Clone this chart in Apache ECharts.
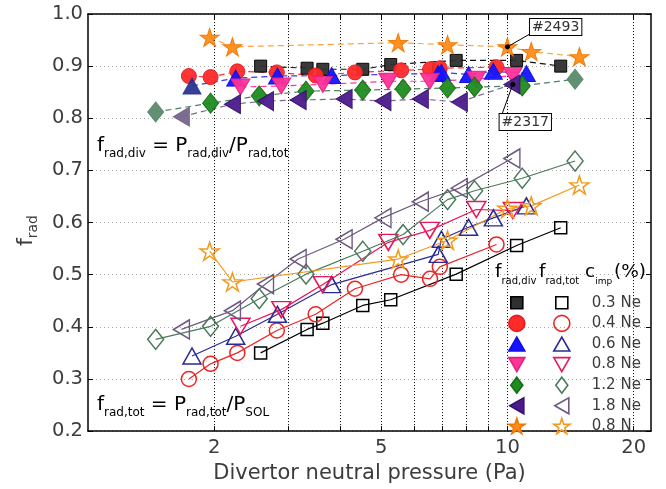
<!DOCTYPE html>
<html><head><meta charset="utf-8">
<script src="https://cdn.jsdelivr.net/npm/echarts@6/dist/echarts.min.js"></script>
<style>html,body{margin:0;padding:0;background:#fff}#c{width:666px;height:489px}</style>
</head><body><div id="c"></div>
<script>
// ---------- data ----------
const xTickLabels = [2, 5, 10, 20];
const xGridValues = [2, 3, 4, 5, 6, 7, 8, 9, 10, 20];
const yMin = 0.2, yMax = 1.0, yStep = 0.1;
const xMin = 1, xMax = 22;

const p03Ne = [2.58, 3.33, 3.63, 4.52, 5.27, 7.55, 10.52, 13.4];
const div03Ne = [0.900, 0.896, 0.894, 0.894, 0.903, 0.911, 0.911, 0.900];
const tot03Ne = [0.350, 0.395, 0.407, 0.441, 0.452, 0.501, 0.556, 0.590];

const p04Ne = [1.74, 1.96, 2.27, 2.82, 3.49, 4.33, 5.58, 6.54, 6.9, 9.42];
const div04Ne = [0.881, 0.879, 0.890, 0.888, 0.882, 0.888, 0.892, 0.894, 0.896, 0.898];
const tot04Ne = [0.300, 0.329, 0.350, 0.393, 0.424, 0.473, 0.500, 0.492, 0.515, 0.558];

const p06Ne = [1.77, 2.25, 2.83, 3.81, 6.84, 6.96, 8.08, 9.26, 11.1];
const div06Ne = [0.862, 0.877, 0.881, 0.882, 0.886, 0.888, 0.884, 0.890, 0.886];
const tot06Ne = [0.344, 0.382, 0.424, 0.481, 0.539, 0.568, 0.591, 0.609, 0.632];

const p08Ne = [2.31, 2.89, 3.63, 5.2, 6.53, 8.43, 10.3];
const div08Ne = [0.860, 0.862, 0.865, 0.871, 0.871, 0.875, 0.882];
const tot08Ne = [0.401, 0.433, 0.481, 0.562, 0.585, 0.625, 0.623];

const p12Ne = [1.45, 1.96, 2.56, 3.31, 4.52, 5.64, 7.2, 8.35, 10.85, 14.5];
const div12Ne = [0.812, 0.829, 0.843, 0.852, 0.854, 0.856, 0.858, 0.860, 0.862, 0.875];
const tot12Ne = [0.376, 0.401, 0.454, 0.501, 0.545, 0.577, 0.644, 0.661, 0.685, 0.718];

const p18Ne = [1.67, 2.21, 2.65, 3.17, 4.08, 5.05, 6.2, 7.68, 10.25];
const div18Ne = [0.803, 0.827, 0.833, 0.835, 0.837, 0.833, 0.837, 0.831, 0.865];
const tot18Ne = [0.395, 0.431, 0.482, 0.530, 0.568, 0.609, 0.640, 0.666, 0.723];

const p08N = [1.95, 2.21, 5.49, 7.2, 10.0, 11.4, 14.85];
const div08N = [0.955, 0.937, 0.945, 0.941, 0.937, 0.928, 0.918];
const tot08N = [0.545, 0.486, 0.530, 0.566, 0.627, 0.632, 0.672];

const impLabels = ['0.3 Ne', '0.4 Ne', '0.6 Ne', '0.8 Ne', '1.2 Ne', '1.8 Ne', '0.8 N'];

const shot2493 = { text: '#2493', point: [10.0, 0.937], end: [11.45, 0.964], box: [12.95, 0.977] };
const shot2317 = { text: '#2317', point: [10.3, 0.865], end: [9.72, 0.809], box: [10.96, 0.795] };

// ---------- styles ----------
const FONT = 'DejaVu Sans';
const TXT = '#3c3c3c';
const STAR = 'path://M100,0L122.45,69.1L195.11,69.1L136.33,111.8L158.78,180.9L100,138.2L41.22,180.9L63.67,111.8L4.89,69.1L77.55,69.1Z';
const INV = 'path://M0,0L20,0L10,17.32Z';
const LEFT = 'path://M0,10L17.32,0L17.32,20Z';
const LG = {
  rect: 'path://M0,0M16,16M2,2L14,2L14,14L2,14Z',
  circle: 'circle',
  triangle: 'path://M0,0M16,16M0,15L8,1L16,15Z',
  inv: 'path://M0,0M16,16M0,1L16,1L8,15Z',
  diamond: 'path://M0,0M16,16M8,0L14,8L8,16L2,8Z',
  left: 'path://M0,0M16,16M1,8L15,0L15,16Z',
  star: STAR
};

const groups = [
  { p: p03Ne, div: div03Ne, tot: tot03Ne, sym: 'rect', lg: 'rect', size: 12, fill: '#2f2f2f', edge: '#000', dash: '#111', open: '#000', special: {} },
  { p: p04Ne, div: div04Ne, tot: tot04Ne, sym: 'circle', lg: 'circle', size: 15, fill: '#ff2a2a', edge: '#e41e1e', dash: '#ff3030', open: '#ee2424', special: {} },
  { p: p06Ne, div: div06Ne, tot: tot06Ne, sym: 'triangle', lg: 'triangle', size: [18, 16], fill: '#1414ff', edge: '#1010e0', dash: '#3434ff', open: '#2a2a96', special: { 0: '#2b3590' } },
  { p: p08Ne, div: div08Ne, tot: tot08Ne, sym: INV, lg: 'inv', size: [19, 16], fill: '#ff3399', edge: '#e4207c', dash: '#ff3399', open: '#e8165a', special: {} },
  { p: p12Ne, div: div12Ne, tot: tot12Ne, sym: 'diamond', lg: 'diamond', size: [16, 20], fill: '#208c20', edge: '#166c16', dash: '#4e8262', open: '#4a7a5a', special: { 0: '#5b8a6b', 9: '#5b8a6b' } },
  { p: p18Ne, div: div18Ne, tot: tot18Ne, sym: LEFT, lg: 'left', size: [16, 19], fill: '#4b1b8c', edge: '#3a0f70', dash: '#7a6a8c', open: '#6d5a80', special: { 0: '#77658a' } },
  { p: p08N, div: div08N, tot: tot08N, sym: STAR, lg: 'star', size: [19, 18], fill: '#ff8c1a', edge: '#f07800', dash: '#ffa444', open: '#f39a1c', special: {} }
];

const series = [];
const legendDiv = [], legendTot = [];

// vertical dotted grid lines (library scale via markLine)
series.push({
  type: 'line', name: 'grid', data: [], silent: true, z: 0,
  markLine: {
    silent: true, symbol: 'none', z: 1, label: { show: false },
    lineStyle: { color: '#000', type: [1, 2], width: 1 },
    data: xGridValues.map(v => ({ xAxis: v }))
  }
});

groups.forEach((g, gi) => {
  const name = impLabels[gi];
  series.push({
    type: 'line', name: 'div ' + name, z: 3,
    symbol: g.sym, symbolSize: g.size,
    data: g.p.map((x, i) => {
      const c = g.special[i];
      return c ? { value: [x, g.div[i]], itemStyle: { color: c, borderColor: c } } : [x, g.div[i]];
    }),
    lineStyle: { color: g.dash, width: 1.2, type: [6, 4] },
    itemStyle: { color: g.fill, borderColor: g.edge, borderWidth: 1, opacity: 0.95 },
    emphasis: { disabled: true }
  });
  series.push({
    type: 'line', name: 'tot ' + name, z: 3,
    symbol: g.sym, symbolSize: g.size,
    data: g.p.map((x, i) => [x, g.tot[i]]),
    lineStyle: { color: g.open, width: 1.2 },
    itemStyle: { color: 'rgba(255,255,255,0)', borderColor: g.open, borderWidth: 1.5 },
    emphasis: { disabled: true }
  });
  legendDiv.push({ name: 'div ' + name, icon: LG[g.lg], itemStyle: { color: g.fill, borderColor: g.edge, borderWidth: 1.6, opacity: 1 } });
  legendTot.push({ name: 'tot ' + name, icon: LG[g.lg], itemStyle: { color: 'rgba(255,255,255,0)', borderColor: g.open, borderWidth: 1.6 } });
});

// annotation arrows
const shots = [shot2493, shot2317];
series.push({
  type: 'line', name: 'annot', data: [], z: 6,
  markLine: {
    silent: true, z: 6, symbol: ['circle', 'none'], symbolSize: 5, label: { show: false },
    lineStyle: { color: '#000', type: 'solid', width: 1 },
    data: shots.map(s => [{ coord: s.point }, { coord: s.end }])
  }
});

const axisLineStyle = { lineStyle: { color: '#000', width: 1.5 } };
const fmtY = v => v.toFixed(1);

const subRich = (main, sub, pad) => ({
  m: { fontSize: main, fontFamily: FONT, color: TXT },
  s: { fontSize: sub, fontFamily: FONT, color: TXT, padding: [pad, 0, 0, 0] }
});

const option = {
  animation: false,
  backgroundColor: '#fff',
  grid: { left: 88, right: 15, top: 14, bottom: 53 },
  xAxis: [{
    type: 'log', logBase: 10, min: xMin, max: xMax,
    name: 'Divertor neutral pressure (Pa)', nameLocation: 'middle', nameGap: 22,
    nameTextStyle: { fontFamily: FONT, fontSize: 21, color: TXT },
    axisLine: axisLineStyle,
    axisTick: { show: true, inside: true, length: 5, customValues: xGridValues, lineStyle: { color: '#000' } },
    axisLabel: { customValues: xTickLabels, formatter: v => String(Math.round(v)), fontFamily: FONT, fontSize: 19.5, color: TXT, margin: 7 },
    splitLine: { show: false }, minorTick: { show: false }
  }, {
    type: 'log', logBase: 10, min: xMin, max: xMax, position: 'top',
    axisLine: axisLineStyle,
    axisTick: { show: true, inside: true, length: 5, customValues: xGridValues, lineStyle: { color: '#000' } },
    axisLabel: { show: false }, splitLine: { show: false }
  }],
  yAxis: [{
    type: 'value', min: yMin, max: yMax, interval: yStep,
    name: '{m|f}{s|rad}', nameLocation: 'middle', nameGap: 48, nameRotate: 90,
    nameTextStyle: { rich: subRich(22, 14, 13), padding: [0, 16, 0, 0] },
    axisLine: { show: true, ...axisLineStyle },
    axisTick: { show: true, inside: true, length: 5, lineStyle: { color: '#000' } },
    axisLabel: { formatter: fmtY, fontFamily: FONT, fontSize: 19.5, color: TXT, margin: 5 },
    splitLine: { show: true, lineStyle: { color: '#aaa', type: [1, 3], width: 1 } }
  }, {
    type: 'value', min: yMin, max: yMax, interval: yStep, position: 'right',
    axisLine: { show: true, ...axisLineStyle },
    axisTick: { show: true, inside: true, length: 5, lineStyle: { color: '#000' } },
    axisLabel: { show: false }, splitLine: { show: false }
  }],
  legend: [{
    orient: 'vertical', left: 508, top: 294, padding: 0, itemGap: 3,
    itemWidth: 16, itemHeight: 16, selectedMode: false,
    formatter: () => ' ', textStyle: { fontSize: 15, lineHeight: 16 },
    data: legendDiv
  }, {
    orient: 'vertical', left: 553, top: 294, padding: 0, itemGap: 3,
    itemWidth: 16, itemHeight: 16, selectedMode: false,
    formatter: n => n.replace('tot ', ''),
    textStyle: { fontFamily: FONT, fontSize: 15, lineHeight: 16, color: TXT, padding: [0, 0, 0, 17] },
    data: legendTot
  }],
  graphic: [{
    type: 'text', id: 'f1', left: 97, top: 136, silent: true,
    style: { text: '{m|f}{s|rad,div}{m| = P}{s|rad,div}{m|/P}{s|rad,tot}', rich: subRich(20, 12, 16) }
  }, {
    type: 'text', id: 'f2', left: 97, top: 395, silent: true,
    style: { text: '{m|f}{s|rad,tot}{m| = P}{s|rad,tot}{m|/P}{s|SOL}', rich: subRich(20, 12, 16) }
  }, {
    type: 'text', id: 'h1', left: 495, top: 263, silent: true,
    style: { text: '{m|f}{s|rad,div}', rich: subRich(18.5, 10, 18) }
  }, {
    type: 'text', id: 'h2', left: 539, top: 263, silent: true,
    style: { text: '{m|f}{s|rad,tot}', rich: subRich(18.5, 10, 18) }
  }, {
    type: 'text', id: 'h3', left: 585, top: 263, silent: true,
    style: { text: '{m|c}{s|imp}', rich: subRich(18.5, 9, 18) }
  }, {
    type: 'text', id: 'h4', left: 614, top: 263, silent: true,
    style: { text: '{m|(%)}', rich: subRich(18.5, 9, 18) }
  }],
  series
};

const chart = echarts.init(document.getElementById('c'), null, { renderer: 'canvas' });
chart.setOption(option);

// annotation boxes placed through the chart's own scales
const boxes = shots.map((s, i) => {
  const pt = chart.convertToPixel({ xAxisIndex: 0, yAxisIndex: 0 }, s.box);
  return {
    type: 'text', id: 'box' + i, left: pt[0] - 25.5, top: pt[1] - 8, z: 100, silent: true,
    style: {
      text: s.text, fontFamily: FONT, fontSize: 14, lineHeight: 14, fill: '#333',
      backgroundColor: '#fff', borderColor: '#000', borderWidth: 1, padding: [1, 2, 1, 2]
    }
  };
});
chart.setOption({ graphic: boxes });
</script>
</body></html>
